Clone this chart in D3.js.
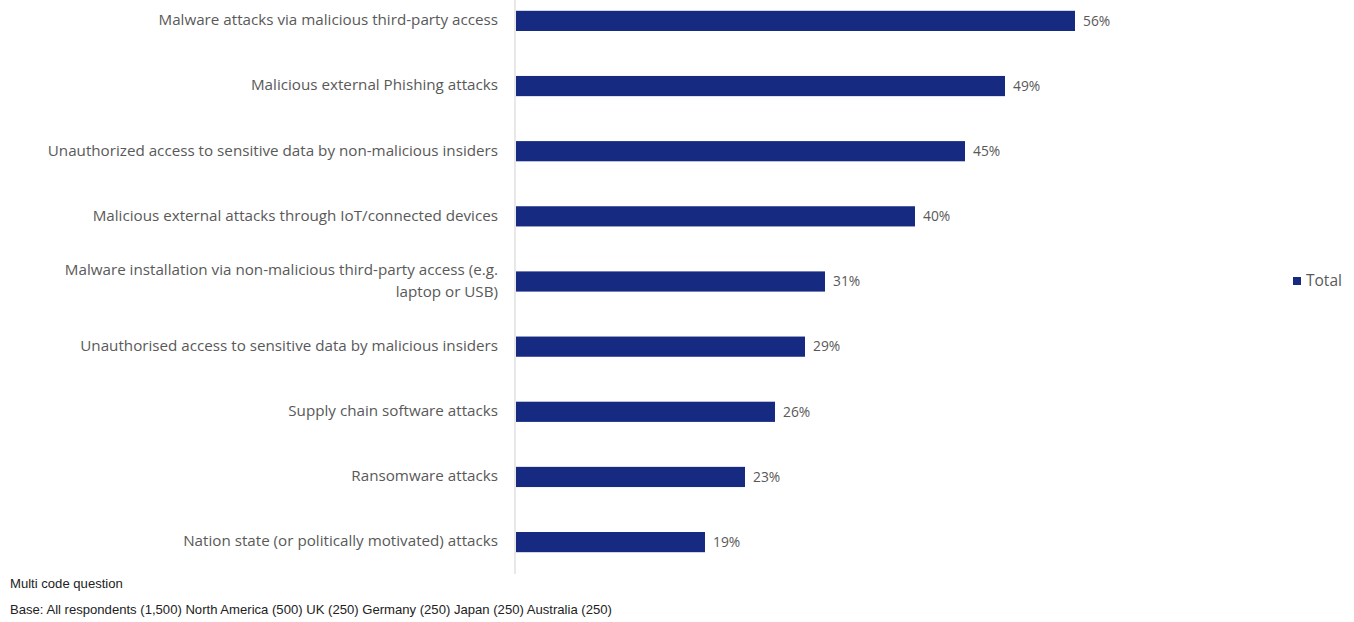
<!DOCTYPE html>
<html>
<head>
<meta charset="utf-8">
<script src="https://cdn.jsdelivr.net/npm/d3@7"></script>
<style>
  html, body { margin: 0; padding: 0; background: #fff; }
  svg { display: block; }
</style>
</head>
<body>
<svg id="chart" width="1354" height="622"></svg>
<script>
// Attack types and share of respondents (%)
const categories = [
  "Malware attacks via malicious third-party access",
  "Malicious external Phishing attacks",
  "Unauthorized access to sensitive data by non-malicious insiders",
  "Malicious external attacks through IoT/connected devices",
  "Malware installation via non-malicious third-party access (e.g.|laptop or USB)",
  "Unauthorised access to sensitive data by malicious insiders",
  "Supply chain software attacks",
  "Ransomware attacks",
  "Nation state (or politically motivated) attacks"
];
const totals = [56, 49, 45, 40, 31, 29, 26, 23, 19];
const seriesName = "Total";
const footnotes = [
  "Multi code question",
  "Base: All respondents (1,500) North America (500) UK (250) Germany (250) Japan (250) Australia (250)"
];

const svg = d3.select("#chart");
const barColor = "#172a82";
const labelFont = "'Open Sans', sans-serif";
const noteFont = "'Liberation Sans', Arial, sans-serif";

const x = d3.scaleLinear().domain([0, 56]).range([515, 1075]);
const y = d3.scaleBand().domain(categories).range([-12, 575]).paddingInner(0.69).paddingOuter(0.35);

// vertical category axis line
svg.append("line")
  .attr("x1", x(0)).attr("x2", x(0))
  .attr("y1", 0).attr("y2", 574)
  .attr("stroke", "#d9d9d9").attr("stroke-width", 1.2);

// bars
svg.selectAll("rect.bar").data(categories).join("rect")
  .attr("class", "bar")
  .attr("x", x(0) + 1)
  .attr("y", d => y(d))
  .attr("width", (d, i) => x(totals[i]) - x(0) - 1)
  .attr("height", y.bandwidth())
  .attr("fill", barColor);

// value labels
svg.selectAll("text.val").data(categories).join("text")
  .attr("class", "val")
  .attr("x", (d, i) => x(totals[i]) + 8)
  .attr("y", d => y(d) + y.bandwidth() / 2)
  .attr("dy", "0.35em")
  .attr("font-family", labelFont)
  .attr("font-size", 13.8)
  .attr("fill", "#595959")
  .text((d, i) => totals[i] + "%");

// category labels (right aligned, may wrap on "|")
const cat = svg.selectAll("text.cat").data(categories).join("text")
  .attr("class", "cat")
  .attr("text-anchor", "end")
  .attr("font-family", labelFont)
  .attr("font-size", 15.2)
  .attr("fill", "#595959");
cat.each(function(d) {
  const lines = d.split("|");
  const cy = y(d) + y.bandwidth() / 2;
  const lh = 22;
  const t = d3.select(this);
  lines.forEach((ln, k) => {
    t.append("tspan")
      .attr("x", 498)
      .attr("y", cy + (k - (lines.length - 1) / 2) * lh - 1)
      .attr("dy", "0.35em")
      .text(ln);
  });
});

// legend
svg.append("rect").attr("x", 1293).attr("y", 277).attr("width", 8).attr("height", 8).attr("fill", barColor);
svg.append("text").attr("x", 1306).attr("y", 281).attr("dy", "0.35em")
  .attr("font-family", labelFont).attr("font-size", 15.5).attr("fill", "#595959")
  .text(seriesName);

// footnotes
svg.selectAll("text.note").data(footnotes).join("text")
  .attr("class", "note")
  .attr("x", 10)
  .attr("y", (d, i) => 583 + i * 26)
  .attr("dy", "0.35em")
  .attr("font-family", noteFont)
  .attr("font-size", 13.1)
  .attr("fill", "#222")
  .text(d => d);
</script>
</body>
</html>
